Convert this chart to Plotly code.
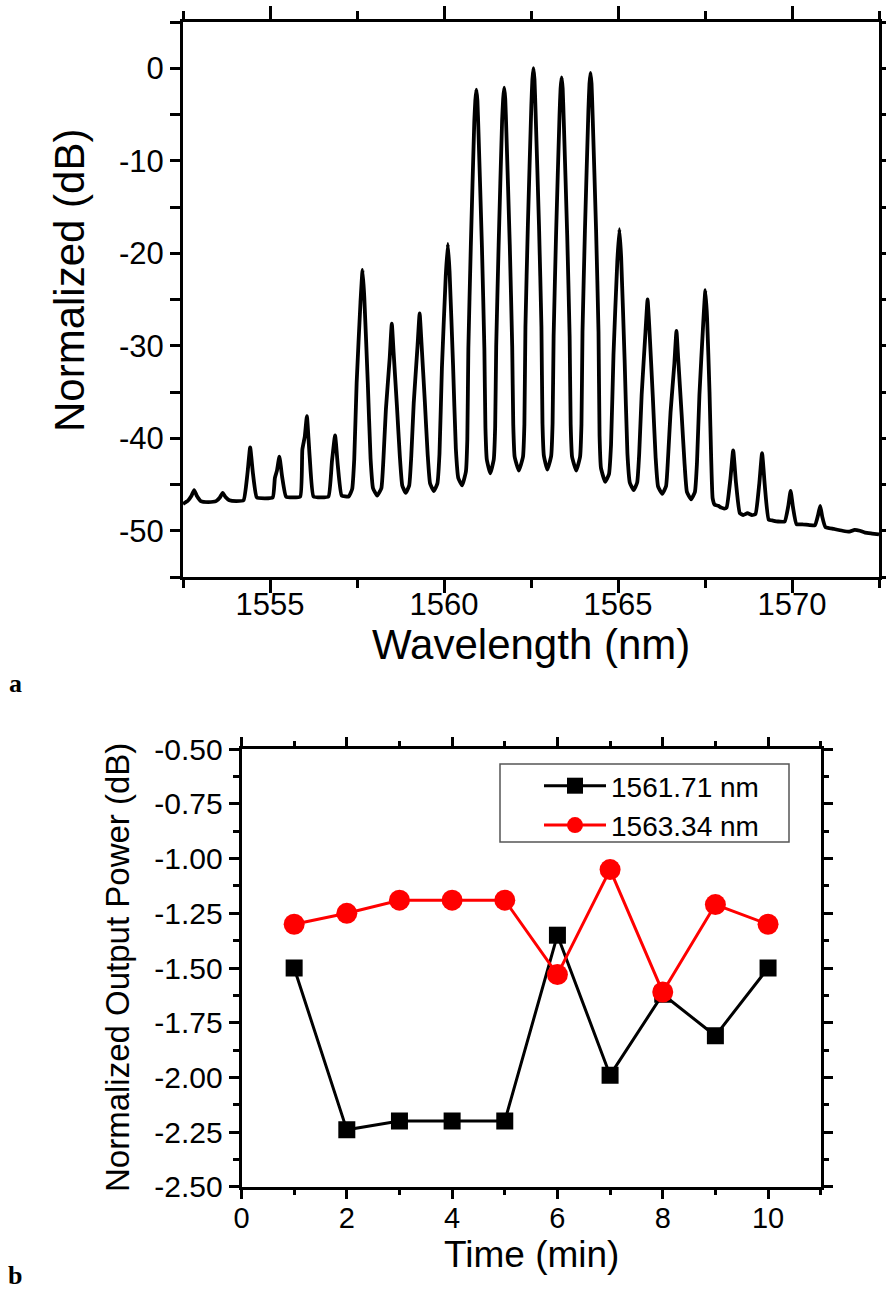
import plotly.graph_objects as go

# ---- Panel a: spectrum (traced points) ----
wavelength_nm = [
    1552.50, 1552.58, 1552.63, 1552.74, 1552.82, 1552.90, 1553.01, 1553.23, 1553.45, 1553.56,
    1553.64, 1553.72, 1553.83, 1554.03, 1554.24, 1554.35, 1554.43, 1554.51, 1554.62, 1554.85,
    1555.08, 1555.14, 1555.20, 1555.27, 1555.35, 1555.46, 1555.66, 1555.87, 1555.93, 1556.00,
    1556.06, 1556.14, 1556.25, 1556.47, 1556.68, 1556.78, 1556.87, 1556.95, 1557.06, 1557.26,
    1557.36, 1557.42, 1557.49, 1557.60, 1557.66, 1557.71, 1557.81, 1557.89, 1557.96, 1558.08,
    1558.20, 1558.26, 1558.33, 1558.44, 1558.50, 1558.55, 1558.65, 1558.73, 1558.80, 1558.90,
    1559.00, 1559.06, 1559.13, 1559.24, 1559.30, 1559.35, 1559.45, 1559.53, 1559.60, 1559.71,
    1559.81, 1559.87, 1559.94, 1560.05, 1560.11, 1560.16, 1560.26, 1560.34, 1560.41, 1560.52,
    1560.63, 1560.67, 1560.70, 1560.77, 1560.87, 1560.90, 1560.93, 1560.96, 1560.99, 1561.09,
    1561.16, 1561.19, 1561.23, 1561.33, 1561.43, 1561.47, 1561.50, 1561.57, 1561.67, 1561.70,
    1561.73, 1561.76, 1561.79, 1561.89, 1561.96, 1561.99, 1562.03, 1562.15, 1562.27, 1562.31,
    1562.34, 1562.41, 1562.51, 1562.54, 1562.57, 1562.60, 1562.63, 1562.73, 1562.80, 1562.83,
    1562.87, 1562.97, 1563.08, 1563.12, 1563.15, 1563.22, 1563.32, 1563.35, 1563.38, 1563.41,
    1563.44, 1563.54, 1563.61, 1563.64, 1563.68, 1563.80, 1563.91, 1563.95, 1563.98, 1564.05,
    1564.15, 1564.18, 1564.21, 1564.24, 1564.27, 1564.37, 1564.44, 1564.47, 1564.51, 1564.63,
    1564.74, 1564.80, 1564.87, 1564.98, 1565.04, 1565.09, 1565.19, 1565.27, 1565.34, 1565.45,
    1565.55, 1565.61, 1565.68, 1565.79, 1565.85, 1565.90, 1566.00, 1566.08, 1566.15, 1566.27,
    1566.38, 1566.44, 1566.51, 1566.62, 1566.68, 1566.73, 1566.83, 1566.91, 1566.98, 1567.10,
    1567.21, 1567.27, 1567.34, 1567.45, 1567.51, 1567.56, 1567.63, 1567.68, 1567.72, 1567.78,
    1567.88, 1567.97, 1568.05, 1568.12, 1568.23, 1568.31, 1568.39, 1568.50, 1568.60, 1568.72,
    1568.85, 1568.95, 1569.06, 1569.14, 1569.22, 1569.33, 1569.45, 1569.60, 1569.79, 1569.89,
    1569.96, 1570.03, 1570.13, 1570.30, 1570.50, 1570.66, 1570.75, 1570.81, 1570.87, 1570.96,
    1571.20, 1571.45, 1571.65, 1571.80, 1571.95, 1572.10, 1572.30, 1572.50,
]
normalized_db = [
    -47.1, -46.9, -46.8, -46.25, -45.6, -46.25, -46.8, -46.9, -46.8, -46.4,
    -45.9, -46.35, -46.7, -46.8, -46.7, -43.9, -41.0, -43.8, -46.4, -46.5,
    -46.4, -44.3, -43.5, -42.0, -44.2, -46.3, -46.4, -46.3, -41.2, -39.8,
    -37.6, -42.0, -46.3, -46.4, -46.3, -42.5, -39.7, -43.0, -46.2, -46.3,
    -45.5, -42.3, -34.0, -25.3, -21.8, -24.8, -34.0, -42.2, -45.4, -46.2,
    -45.4, -42.2, -36.9, -31.3, -27.6, -30.6, -36.7, -41.9, -45.1, -45.9,
    -45.1, -41.9, -36.2, -30.0, -26.5, -29.5, -36.1, -41.7, -44.9, -45.7,
    -44.9, -41.7, -32.4, -22.5, -19.0, -22.0, -32.1, -41.1, -44.3, -45.1,
    -43.6, -40.1, -30.3, -19.3, -5.8, -3.5, -2.3, -3.5, -6.8, -19.3,
    -30.3, -38.8, -42.3, -43.8, -42.3, -38.8, -30.1, -19.1, -5.6, -3.3,
    -2.1, -3.3, -6.6, -19.1, -30.1, -38.5, -42.0, -43.5, -42.0, -38.5,
    -28.0, -17.0, -4.0, -1.2, 0.0, -1.2, -4.5, -17.0, -28.0, -38.4,
    -41.9, -43.4, -41.9, -38.4, -29.0, -18.0, -5.0, -2.2, -1.0, -2.2,
    -5.5, -18.0, -29.0, -38.5, -42.0, -43.5, -42.0, -38.5, -28.5, -17.5,
    -4.5, -1.7, -0.5, -1.7, -5.0, -17.5, -28.5, -39.7, -43.2, -44.7,
    -43.9, -40.7, -31.0, -20.9, -17.4, -20.4, -31.5, -41.6, -44.8, -45.6,
    -44.8, -41.6, -35.3, -28.5, -25.0, -28.0, -35.5, -42.0, -45.2, -46.0,
    -45.2, -42.0, -37.2, -31.9, -28.4, -31.4, -37.5, -42.6, -45.8, -46.6,
    -45.8, -42.6, -35.3, -27.5, -24.0, -27.0, -35.0, -42.5, -46.5, -47.2,
    -47.3, -47.5, -47.6, -47.5, -44.4, -41.3, -44.8, -48.1, -48.3, -48.1,
    -48.3, -48.2, -44.9, -41.6, -45.2, -48.8, -48.9, -49.0, -49.0, -47.4,
    -45.7, -47.5, -49.3, -49.3, -49.4, -49.4, -48.3, -47.3, -48.5, -49.6,
    -49.8, -50.0, -50.1, -49.9, -50.0, -50.2, -50.3, -50.4,
]
wl_ticks = [1555, 1560, 1565, 1570]
wl_labels = ["1555", "1560", "1565", "1570"]
db_ticks = [0, -10, -20, -30, -40, -50]
db_labels = ["0", "-10", "-20", "-30", "-40", "-50"]

# ---- Panel b: output power stability ----
time_min = [1, 2, 3, 4, 5, 6, 7, 8, 9, 10]
power_1561_71 = [-1.50, -2.24, -2.20, -2.20, -2.20, -1.35, -1.99, -1.62, -1.81, -1.50]
power_1563_34 = [-1.30, -1.25, -1.19, -1.19, -1.19, -1.53, -1.05, -1.61, -1.21, -1.30]
time_ticks = [0, 2, 4, 6, 8, 10]
time_labels = ["0", "2", "4", "6", "8", "10"]
power_ticks = [-2.50, -2.25, -2.00, -1.75, -1.50, -1.25, -1.00, -0.75, -0.50]
power_labels = ["-2.50", "-2.25", "-2.00", "-1.75", "-1.50", "-1.25", "-1.00", "-0.75", "-0.50"]

W, H = 886, 1289
FONT = "Arial, Liberation Sans, sans-serif"

fig = go.Figure()
fig.add_trace(go.Scatter(
    x=wavelength_nm, y=normalized_db, mode="lines",
    line=dict(color="black", width=3.8, shape="spline", smoothing=0.4),
    showlegend=False, xaxis="x", yaxis="y"))
fig.add_trace(go.Scatter(
    x=time_min, y=power_1561_71, mode="lines+markers", name="1561.71 nm",
    line=dict(color="black", width=3),
    marker=dict(symbol="square", size=17, color="black"),
    xaxis="x2", yaxis="y2"))
fig.add_trace(go.Scatter(
    x=time_min, y=power_1563_34, mode="lines+markers", name="1563.34 nm",
    line=dict(color="#ff0000", width=3),
    marker=dict(symbol="circle", size=21, color="#ff0000"),
    xaxis="x2", yaxis="y2"))

def ax(domain, rng, tickvals, ticktext, minor_dtick, font_size, lw, anchor,
       ticklen=12, minorlen=7, standoff=0):
    return dict(domain=domain, range=rng, tickmode="array", tickvals=tickvals, ticktext=ticktext,
                showgrid=False, zeroline=False, automargin=False,
                showline=True, linecolor="black", linewidth=lw, mirror="ticks",
                ticks="outside", ticklen=ticklen, tickwidth=lw, tickcolor="black",
                ticklabelstandoff=standoff,
                tickfont=dict(family=FONT, size=font_size, color="black"),
                minor=dict(dtick=minor_dtick, ticks="outside", ticklen=minorlen,
                           tickwidth=lw, tickcolor="black", showgrid=False),
                anchor=anchor, fixedrange=True)

top_x = [183 / W, 879 / W]
top_y = [1 - 577 / H, 1 - 22 / H]
bot_x = [241.5 / W, 820.7 / W]
bot_y = [1 - 1186.7 / H, 1 - 749.3 / H]

fig.update_layout(
    width=W, height=H, margin=dict(l=0, r=0, t=0, b=0, autoexpand=False),
    paper_bgcolor="white", plot_bgcolor="white",
    xaxis=ax(top_x, [1552.5, 1572.5], wl_ticks, wl_labels, 2.5, 31, 3, "y",
             ticklen=13, minorlen=8, standoff=-15),
    yaxis=ax(top_y, [-55, 5], db_ticks, db_labels, 5, 31, 3, "x", ticklen=10, minorlen=10),
    xaxis2=ax(bot_x, [0, 11], time_ticks, time_labels, 1, 29, 2.5, "y2",
              ticklen=10, minorlen=6, standoff=-6),
    yaxis2=ax(bot_y, [-2.5, -0.5], power_ticks, power_labels, 0.125, 30, 2.5, "x2",
              ticklen=10, minorlen=6),
    legend=dict(x=539 / W, y=1 - 761 / H, xanchor="left", yanchor="top",
                borderwidth=0, bgcolor="rgba(0,0,0,0)",
                font=dict(family=FONT, size=28, color="black"),
                itemwidth=62, tracegroupgap=0),
    shapes=[dict(type="rect", xref="paper", yref="paper",
                 x0=500 / W, x1=789 / W, y0=1 - 842 / H, y1=1 - 764 / H,
                 line=dict(color="#555555", width=1.5), fillcolor="rgba(0,0,0,0)")],
    annotations=[
        dict(text="Wavelength (nm)", x=531 / W, y=1 - 644 / H, xref="paper", yref="paper",
             showarrow=False, xanchor="center", yanchor="middle",
             font=dict(family=FONT, size=42, color="black")),
        dict(text="Normalized (dB)", x=70 / W, y=1 - 281 / H, xref="paper", yref="paper",
             showarrow=False, xanchor="center", yanchor="middle", textangle=-90,
             font=dict(family=FONT, size=42, color="black")),
        dict(text="Time (min)", x=531 / W, y=1 - 1254 / H, xref="paper", yref="paper",
             showarrow=False, xanchor="center", yanchor="middle",
             font=dict(family=FONT, size=37, color="black")),
        dict(text="Normalized Output Power (dB)", x=117 / W, y=1 - 968 / H, xref="paper", yref="paper",
             showarrow=False, xanchor="center", yanchor="middle", textangle=-90,
             font=dict(family=FONT, size=33, color="black")),
        dict(text="<b>a</b>", x=15 / W, y=1 - 683 / H, xref="paper", yref="paper",
             showarrow=False, xanchor="center", yanchor="middle",
             font=dict(family="Liberation Serif, Times New Roman, serif", size=26, color="black")),
        dict(text="<b>b</b>", x=15 / W, y=1 - 1275 / H, xref="paper", yref="paper",
             showarrow=False, xanchor="center", yanchor="middle",
             font=dict(family="Liberation Serif, Times New Roman, serif", size=26, color="black")),
    ],
)

fig.write_html("out.html")
